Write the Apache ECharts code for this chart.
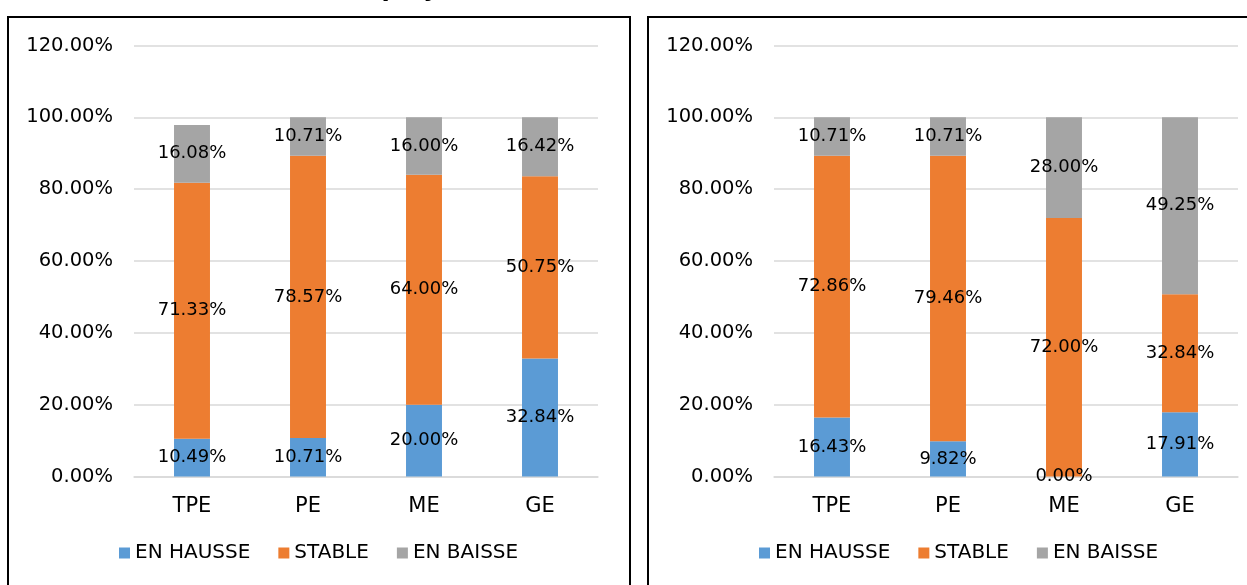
<!DOCTYPE html>
<html>
<head>
<meta charset="utf-8">
<script src="https://cdn.jsdelivr.net/npm/echarts@6/dist/echarts.min.js"></script>
<style>
html,body{margin:0;padding:0;background:#fff;}
#c{width:1247px;height:585px;}
</style>
</head>
<body>
<div id="c"></div>
<script>
const categories = ['TPE', 'PE', 'ME', 'GE'];
const seriesNames = ['EN HAUSSE', 'STABLE', 'EN BAISSE'];
const titles = ["Nombre d'employés", "Masse salariale"];
const yTicks = [0, 20, 40, 60, 80, 100, 120];

// Panel 1
const leftHausse = [10.49, 10.71, 20.00, 32.84];
const leftStable = [71.33, 78.57, 64.00, 50.75];
const leftBaisse = [16.08, 10.71, 16.00, 16.42];
// Panel 2
const rightHausse = [16.43, 9.82, 0.00, 17.91];
const rightStable = [72.86, 79.46, 72.00, 32.84];
const rightBaisse = [10.71, 10.71, 28.00, 49.25];

const colors = ['#5B9BD5', '#ED7D31', '#A5A5A5'];
const FONT = '"DejaVu Sans"';
const txt = {fontFamily: FONT, fontSize: 18, color: '#000'};

function yAxis(idx) {
  return {
    gridIndex: idx, type: 'value', min: yTicks[0], max: yTicks[yTicks.length - 1], interval: 20,
    axisLine: {show: false}, axisTick: {show: false},
    axisLabel: Object.assign({}, txt, {fontSize: 19.5, margin: 21, formatter: v => v.toFixed(2) + '%'}),
    splitLine: {lineStyle: {color: '#D9D9D9', width: 1.5}}
  };
}
function xAxis(idx) {
  return {
    gridIndex: idx, type: 'category', data: categories,
    axisLine: {lineStyle: {color: '#D9D9D9', width: 1.5}}, axisTick: {show: false},
    axisLabel: Object.assign({}, txt, {fontSize: 21, margin: 20})
  };
}
function mk(name, data, idx, ci, stack) {
  return {
    name: name, type: 'bar', stack: stack, data: data,
    xAxisIndex: idx, yAxisIndex: idx, barWidth: '31%',
    itemStyle: {color: colors[ci]},
    label: Object.assign({}, txt, {show: true, position: 'inside', formatter: p => p.value.toFixed(2) + '%'}),
    emphasis: {disabled: true}
  };
}

const legendText = Object.assign({}, txt, {fontSize: 20});
const legendBase = {
  data: seriesNames.map(n => ({name: n, textStyle: legendText})),
  icon: 'rect', itemWidth: 11, itemHeight: 11, itemGap: 28,
  textStyle: legendText, top: 538, selectedMode: false
};

const option = {
  animation: false,
  title: [
    {text: titles[0], left: 330, textAlign: 'center', top: -27, textStyle: {fontFamily: FONT, fontSize: 24, fontWeight: 'bold', color: '#000'}},
    {text: titles[1], left: 950, textAlign: 'center', top: -27, textStyle: {fontFamily: FONT, fontSize: 24, fontWeight: 'bold', color: '#000'}}
  ],
  grid: [
    {left: 134, top: 45.5, width: 464, height: 431},
    {left: 774, top: 45.5, width: 464, height: 431}
  ],
  xAxis: [xAxis(0), xAxis(1)],
  yAxis: [yAxis(0), yAxis(1)],
  legend: [
    Object.assign({}, legendBase, {left: 114}),
    Object.assign({}, legendBase, {left: 754})
  ],
  series: [
    mk(seriesNames[0], leftHausse, 0, 0, 'a'),
    mk(seriesNames[1], leftStable, 0, 1, 'a'),
    mk(seriesNames[2], leftBaisse, 0, 2, 'a'),
    mk(seriesNames[0], rightHausse, 1, 0, 'b'),
    mk(seriesNames[1], rightStable, 1, 1, 'b'),
    mk(seriesNames[2], rightBaisse, 1, 2, 'b')
  ],
  graphic: [
    {type: 'rect', shape: {x: 8, y: 17, width: 622, height: 600}, style: {fill: null, stroke: '#000', lineWidth: 2}, silent: true},
    {type: 'rect', shape: {x: 648, y: 17, width: 622, height: 600}, style: {fill: null, stroke: '#000', lineWidth: 2}, silent: true}
  ]
};

const chart = echarts.init(document.getElementById('c'), null, {renderer: 'canvas'});
chart.setOption(option);
</script>
</body>
</html>
